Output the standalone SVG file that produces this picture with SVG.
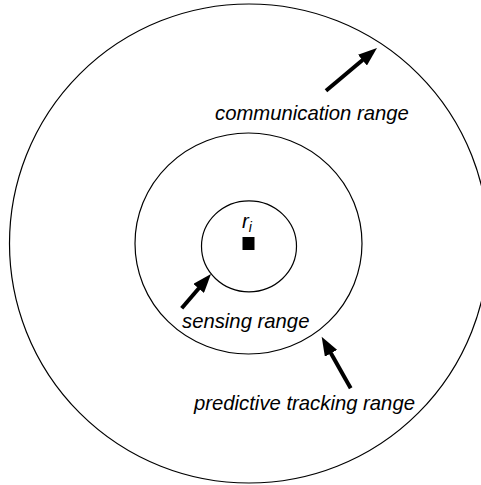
<svg xmlns="http://www.w3.org/2000/svg" width="481" height="485" viewBox="0 0 481 485">
<style>
.ring{fill:none;stroke:#000;stroke-width:1.2}
.lbl{font-family:"Liberation Sans",Arial,sans-serif;font-style:italic;font-size:20.3px;fill:#000}
.arr{stroke:#000;stroke-width:4;fill:none}
</style>
<defs>
<marker id="ah" markerUnits="userSpaceOnUse" markerWidth="20" markerHeight="14" viewBox="0 0 20 14" refX="1" refY="7" orient="auto">
<path d="M0,0 L19,7 L0,14 z" fill="#000"/>
</marker>
</defs>
<rect width="481" height="485" fill="#fff"/>
<g id="communication-range">
<circle class="ring" cx="249" cy="243.5" r="239.5"/>
<text class="lbl" x="215" y="120" font-size="20.6">communication range</text>
</g>
<g id="predictive-tracking-range">
<ellipse class="ring" cx="248.5" cy="243.5" rx="113.5" ry="110.5"/>
<text class="lbl" x="194" y="410">predictive tracking range</text>
</g>
<g id="sensing-range">
<ellipse class="ring" cx="249" cy="246.3" rx="47.5" ry="45.5"/>
<text class="lbl" x="182" y="328" font-size="20">sensing range</text>
</g>
<g id="node-ri">
<rect x="242.5" y="237" width="12" height="13" fill="#000"/>
<text class="lbl" x="242" y="227.5" font-size="19">r<tspan font-size="14" dy="4">i</tspan></text>
</g>
<g id="connectors">
<line class="arr" x1="326" y1="90.7" x2="363.2" y2="59.5" marker-end="url(#ah)"/>
<line class="arr" x1="181.7" y1="308.3" x2="199.3" y2="287.7" marker-end="url(#ah)"/>
<line class="arr" x1="350.7" y1="388.3" x2="330.5" y2="352.4" marker-end="url(#ah)"/>
</g>
</svg>
